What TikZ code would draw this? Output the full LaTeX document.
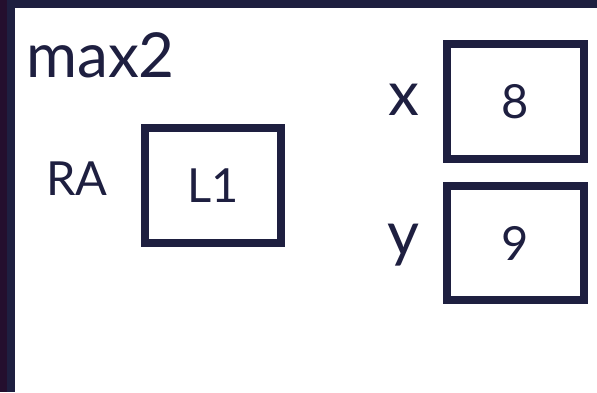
\documentclass[tikz,border=0pt]{standalone}
\usepackage{fontspec}
\setmainfont{Lato}
\definecolor{navy}{HTML}{1E1F40}
\definecolor{edge}{HTML}{240F2E}
\begin{document}
\begin{tikzpicture}[x=1pt,y=-1pt,
  cell/.style={draw=navy,line width=8pt,minimum width=137pt,inner sep=0pt,text=navy,font=\fontsize{47}{50}\selectfont},
  big/.style={text=navy,font=\fontsize{62}{68}\selectfont,inner sep=0pt,anchor=base west},
  mid/.style={text=navy,font=\fontsize{47}{50}\selectfont,inner sep=0pt,anchor=base west}]
\useasboundingbox (0,0) rectangle (597,392);
\fill[white] (0,0) rectangle (597,392);
\fill[edge] (0,0) rectangle (7,392);
\fill[navy] (7,0) rectangle (15,392);
\fill[navy] (7,0) rectangle (597,8);
\node[big] (title) at (26,77) {max2};
\node[mid] (ra) at (46,195) {RA};
\node[cell,minimum width=136pt,minimum height=115pt] (l1) at (213,185.5) {L1};
\node[big] (xl) at (388,115) {x};
\node[big] (yl) at (387,255) {y};
\node[cell,minimum width=137pt,minimum height=115pt] (xv) at (515.5,101.5) {8};
\node[cell,minimum width=137pt,minimum height=114pt] (yv) at (515.5,243) {9};
\end{tikzpicture}
\end{document}
